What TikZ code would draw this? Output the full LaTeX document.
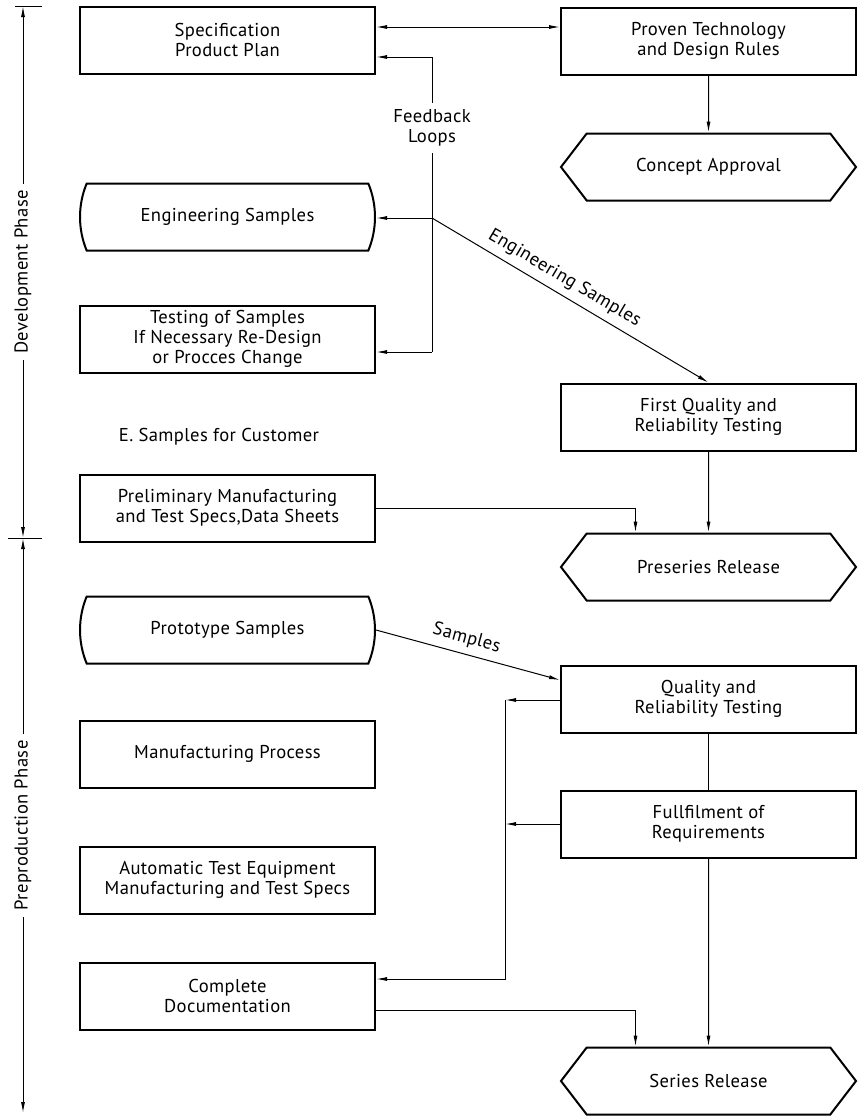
\documentclass[tikz,border=0pt]{standalone}
\usepackage{fontspec}
\setmainfont{PT Sans}[LetterSpace=2]
\usetikzlibrary{shapes.misc,shapes.symbols,arrows.meta}

\begin{document}
\begin{tikzpicture}[x=0.5pt, y=-0.5pt, font=\fontsize{9.3}{10}\selectfont,
        >={Latex[length=5.5pt,width=2pt]},
        box/.style={draw, line width=1pt, minimum width=147.5pt, minimum height=33.5pt, align=center, inner sep=0pt},
        roundbox/.style={box, rounded rectangle, rounded rectangle arc length=45},
        hexbox/.style={box, signal, signal to=west and east, signal pointer angle=105},
        link/.style={line width=0.5pt}]
        \useasboundingbox (0,0) rectangle (858,1116);
        % phase axis
        \coordinate (devtop) at (23,6);
        \coordinate (devbot) at (23,538);
        \coordinate (prebot) at (23,1113);
        \draw [link] (15,6) -- (42,6);
        \draw [link] (8,538) -- (42,538);
        \draw [link, <->] (devtop) -- node [rotate=90, fill=white] {Development Phase} (devbot);
        \draw [link, <->] (devbot) -- node [rotate=90, fill=white] {Preproduction Phase} (prebot);
        % boxes
        \node [box]      (spec)    at (227.5, 40)   {Specification\\Product Plan};
        \node [box]      (proven)  at (708.5, 41)   {Proven Technology\\and Design Rules};
        \node [hexbox]   (concept) at (708.5, 167)  {Concept Approval};
        \node [roundbox] (engsamp) at (227.5, 217)  {Engineering Samples};
        \node [box]      (testing) at (227.5, 339)  {Testing of Samples\\If Necessary Re-Design\\or Procces Change};
        \node            (custom)  at (219, 437)    {E. Samples for Customer};
        \node [box]      (firstq)  at (708.5, 417)  {First Quality and\\Reliability Testing};
        \node [box]      (prelim)  at (227.5, 508)  {Preliminary Manufacturing\\and Test Specs,Data Sheets};
        \node [hexbox]   (preser)  at (708.5, 567)  {Preseries Release};
        \node [roundbox] (proto)   at (227.5, 630)  {Prototype Samples};
        \node [box]      (quality) at (708.5, 699)  {Quality and\\Reliability Testing};
        \node [box]      (manuf)   at (227.5, 754)  {Manufacturing Process};
        \node [box]      (fullf)   at (708.5, 824)  {Fullfilment of\\Requirements};
        \node [box]      (ate)     at (227.5, 880)  {Automatic Test Equipment\\Manufacturing and Test Specs};
        \node [box]      (compdoc) at (227.5, 996)  {Complete\\Documentation};
        \node [hexbox]   (series)  at (708.5, 1081) {Series Release};
        % junction points
        \coordinate (toprow) at (0, 27);
        \coordinate (fbtop)  at (432, 57);
        \coordinate (fbeng)  at (432, 218);
        \coordinate (fbtest) at (432, 352);
        \coordinate (qtop)   at (505, 700);
        % development phase
        \draw [link, <->] (spec.east |- toprow) -- (proven.west |- toprow);
        \draw [link, ->] (proven) -- (concept);
        \draw [link] (fbtop) -- node [pos=0.24, fill=white, align=center] {Feedback\\Loops} (fbtest);
        \draw [link, ->] (fbtop) -- (fbtop -| spec.east);
        \draw [link, ->] (fbeng) -- (fbeng -| engsamp.east);
        \draw [link, ->] (fbtest) -- (fbtest -| testing.east);
        \draw [link, ->] (fbeng) -- node [sloped, above, pos=0.45] {Engineering Samples} (firstq.north);
        \draw [link, ->] (firstq) -- (preser);
        \draw [link, ->] (prelim.east) -| ([xshift=-36.5pt]preser.north);
        % preproduction phase
        \draw [link, ->] (proto.east) -- node [sloped, above, pos=0.47] {Samples} ([yshift=9.5pt]quality.west);
        \draw [link] (quality) -- (fullf);
        \draw [link, ->] (fullf) -- (series);
        \draw [link, ->] (quality.west |- qtop) -- (qtop);
        \draw [link, ->] (fullf.west) -- (fullf.west -| qtop);
        \draw [link, ->] (qtop) |- ([yshift=8.5pt]compdoc.east);
        \draw [link, ->] ([yshift=-7pt]compdoc.east) -| ([xshift=-36.5pt]series.north);
\end{tikzpicture}
\end{document}
